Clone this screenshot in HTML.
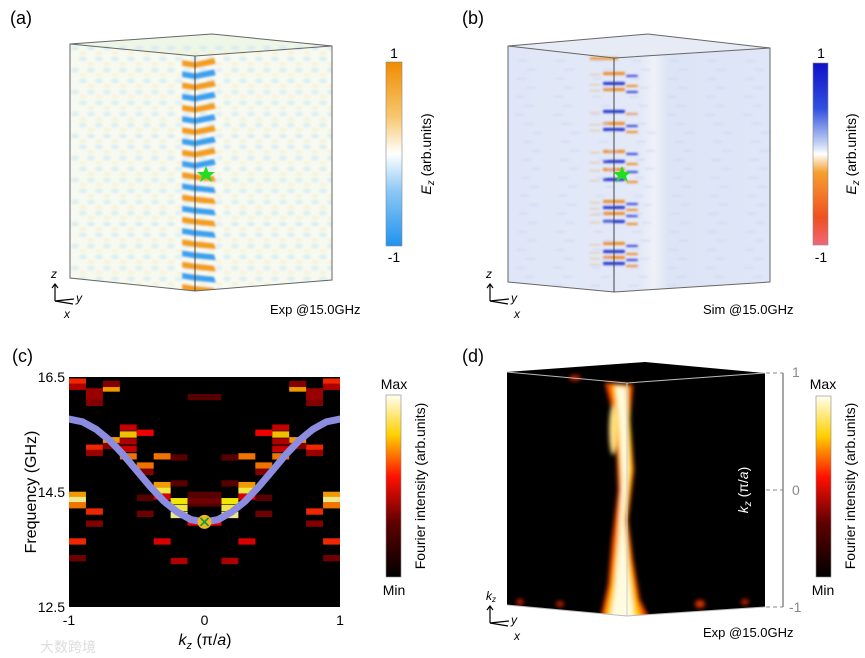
<!DOCTYPE html>
<html><head><meta charset="utf-8"><style>
html,body{margin:0;padding:0;background:#fff;}
svg{display:block;font-family:"Liberation Sans",sans-serif;}
</style></head><body>
<svg id="fig" width="865" height="658" viewBox="0 0 865 658" xmlns="http://www.w3.org/2000/svg">
<defs>
<linearGradient id="cbA" x1="0" y1="0" x2="0" y2="1"><stop offset="0" stop-color="#f08c00"/><stop offset="0.3" stop-color="#f7c870"/><stop offset="0.5" stop-color="#ffffff"/><stop offset="0.7" stop-color="#8cc8f5"/><stop offset="1" stop-color="#1f93ee"/></linearGradient>
<linearGradient id="cbB" x1="0" y1="0" x2="0" y2="1"><stop offset="0" stop-color="#1010c8"/><stop offset="0.25" stop-color="#3050e0"/><stop offset="0.45" stop-color="#c8d8f4"/><stop offset="0.5" stop-color="#ffffff"/><stop offset="0.6" stop-color="#f5a030"/><stop offset="0.85" stop-color="#f05020"/><stop offset="1" stop-color="#f06878"/></linearGradient>
<linearGradient id="cbHot" x1="0" y1="1" x2="0" y2="0"><stop offset="0" stop-color="#000"/><stop offset="0.3" stop-color="#600000"/><stop offset="0.55" stop-color="#ff1000"/><stop offset="0.78" stop-color="#ffd000"/><stop offset="1" stop-color="#fffff0"/></linearGradient>
<linearGradient id="bgB" x1="0" y1="0" x2="1" y2="0"><stop offset="0" stop-color="#dfe6f7"/><stop offset="0.5" stop-color="#e3e9f7"/><stop offset="0.55" stop-color="#eef1f8"/><stop offset="0.6" stop-color="#dce4f6"/><stop offset="1" stop-color="#dfe6f7"/></linearGradient>
<clipPath id="clipA"><polygon points="70,44 212,34 332,46 332,280 195,291 70,278"/></clipPath>
<clipPath id="clipB"><polygon points="508,46 648,34 770,48 770,282 614,292 508,282"/></clipPath>
<clipPath id="clipD"><polygon points="507,372 645,362 765,373 765,607 627,616 507,605"/></clipPath>
<clipPath id="clipC"><rect x="69" y="377" width="271" height="230"/></clipPath>
<filter id="blur1"><feGaussianBlur stdDeviation="1"/></filter>
<filter id="blur2"><feGaussianBlur stdDeviation="2"/></filter>
</defs>

<text x="10" y="24" font-size="18">(a)</text>
<text x="462" y="24" font-size="18">(b)</text>
<text x="12" y="362" font-size="18">(c)</text>
<text x="462" y="362" font-size="18">(d)</text>

<!-- Panel a -->
<g id="pa" clip-path="url(#clipA)">
<rect x="60" y="30" width="280" height="270" fill="#f7faf0"/>
<polygon points="70,44 212,34 332,46 195,56" fill="#eef6e8"/>
<g id="paBlobs" filter="url(#blur1)"></g><g id="paStripes" filter="url(#blur1)"></g>
</g>
<g fill="none" stroke="#666" stroke-width="1">
<polygon points="70,44 212,34 332,46 332,280 195,291 70,278"/><polyline points="70,44 195,56 332,46"/><line x1="195" y1="56" x2="195" y2="291" stroke="#444"/>
</g>
<polygon points="206,166 208.5,172 215,172 210,176 212,182 206,178 200,182 202,176 197,172 203.5,172" fill="#22dd22"/>
<rect x="386" y="62" width="16" height="184" fill="url(#cbA)" stroke="#888" stroke-width="0.6"/>
<text x="394" y="58" font-size="14" text-anchor="middle">1</text>
<text x="394" y="262" font-size="14" text-anchor="middle">-1</text>
<text transform="translate(431,154) rotate(-90)" font-size="14" text-anchor="middle"><tspan font-style="italic">E</tspan><tspan font-style="italic" font-size="10" dy="3">z</tspan><tspan dy="-3"> (arb.units)</tspan></text>
<text x="270" y="314" font-size="13">Exp @15.0GHz</text>
<g stroke="#000" stroke-width="1.2" fill="none">
<line x1="55" y1="301" x2="55" y2="285"/><polyline points="52,288 55,284 58,288"/><line x1="55" y1="301" x2="74" y2="299"/><line x1="55" y1="301" x2="73" y2="304"/>
</g>
<text x="51" y="278" font-size="12" font-style="italic">z</text><text x="76" y="302" font-size="12" font-style="italic">y</text><text x="64" y="318" font-size="12" font-style="italic">x</text>

<!-- Panel b -->
<g id="pb" clip-path="url(#clipB)">
<rect x="500" y="30" width="280" height="270" fill="url(#bgB)"/>
<polygon points="508,46 648,34 770,48 614,58" fill="#e6ebf6"/>
<g id="pbStreaks" filter="url(#blur1)"></g>
</g>
<g fill="none" stroke="#666" stroke-width="1">
<polygon points="508,46 648,34 770,48 770,282 614,292 508,282"/><polyline points="508,46 614,58 770,48"/><line x1="614" y1="58" x2="614" y2="292" stroke="#444"/>
</g>
<polygon points="622,166 624.5,172 631,172 626,176 628,182 622,178 616,182 618,176 613,172 619.5,172" fill="#22dd22"/>
<rect x="813" y="63" width="15" height="182" fill="url(#cbB)" stroke="#888" stroke-width="0.6"/>
<text x="821" y="58" font-size="14" text-anchor="middle">1</text>
<text x="821" y="262" font-size="14" text-anchor="middle">-1</text>
<text transform="translate(856,154) rotate(-90)" font-size="14" text-anchor="middle"><tspan font-style="italic">E</tspan><tspan font-style="italic" font-size="10" dy="3">z</tspan><tspan dy="-3"> (arb.units)</tspan></text>
<text x="703" y="314" font-size="13">Sim @15.0GHz</text>
<g stroke="#000" stroke-width="1.2" fill="none">
<line x1="490" y1="301" x2="490" y2="285"/><polyline points="487,288 490,284 493,288"/><line x1="490" y1="301" x2="509" y2="299"/><line x1="490" y1="301" x2="508" y2="304"/>
</g>
<text x="486" y="278" font-size="12" font-style="italic">z</text><text x="511" y="302" font-size="12" font-style="italic">y</text><text x="514" y="318" font-size="12" font-style="italic">x</text>

<!-- Panel c -->
<g>
<rect x="69" y="377" width="271" height="230" fill="#000"/>
<g id="cells" clip-path="url(#clipC)"></g>
<path id="bandCurve" fill="none" stroke="#8c8ce0" stroke-width="7" stroke-linecap="round" clip-path="url(#clipC)"/>
<g id="marker"></g>
<g id="ticks"></g>
<text transform="translate(36,492) rotate(-90)" font-size="16" text-anchor="middle">Frequency (GHz)</text>
<text x="205" y="645" font-size="16" text-anchor="middle"><tspan font-style="italic">k</tspan><tspan font-style="italic" font-size="11" dy="4">z</tspan><tspan dy="-4"> (π/</tspan><tspan font-style="italic">a</tspan><tspan>)</tspan></text>
</g>
<rect x="386" y="395" width="15" height="182" fill="url(#cbHot)" stroke="#888" stroke-width="0.6"/>
<text x="394" y="389" font-size="14" text-anchor="middle">Max</text>
<text x="394" y="595" font-size="14" text-anchor="middle">Min</text>
<text transform="translate(425,486) rotate(-90)" font-size="14" text-anchor="middle">Fourier intensity (arb.units)</text>
<text x="40" y="652" font-size="14" fill="#ddd" font-family="'Liberation Sans','Noto Sans CJK SC',sans-serif">大数跨境</text>

<!-- Panel d -->
<g clip-path="url(#clipD)">
<rect x="500" y="355" width="280" height="270" fill="#000"/>
<g id="pdStripe" filter="url(#blur2)"></g>
</g>
<g fill="none" stroke="#bbb" stroke-width="1">
<polyline points="507,372 627,383 765,373"/><line x1="627" y1="383" x2="627" y2="616" stroke="#ccc"/><polyline points="507,605 627,616 765,607"/>
</g>
<g stroke="#888" fill="none">
<line x1="783" y1="373" x2="783" y2="607" stroke-width="1.5"/>
<line x1="766" y1="373" x2="783" y2="373" stroke-dasharray="4,3"/>
<line x1="766" y1="490" x2="783" y2="490" stroke-dasharray="4,3"/>
<line x1="766" y1="607" x2="783" y2="607" stroke-dasharray="4,3"/>
</g>
<text x="792" y="377" font-size="14" fill="#888">1</text>
<text x="792" y="495" font-size="14" fill="#888">0</text>
<text x="789" y="612" font-size="14" fill="#888">-1</text>
<text transform="translate(748,490) rotate(-90)" font-size="14" fill="#fff" text-anchor="middle"><tspan font-style="italic">k</tspan><tspan font-style="italic" font-size="10" dy="3">z</tspan><tspan dy="-3"> (π/</tspan><tspan font-style="italic">a</tspan><tspan>)</tspan></text>
<rect x="816" y="396" width="15" height="181" fill="url(#cbHot)" stroke="#888" stroke-width="0.6"/>
<text x="823" y="389" font-size="14" text-anchor="middle">Max</text>
<text x="823" y="595" font-size="14" text-anchor="middle">Min</text>
<text transform="translate(855,486) rotate(-90)" font-size="14" text-anchor="middle">Fourier intensity (arb.units)</text>
<text x="703" y="637" font-size="13">Exp @15.0GHz</text>
<g stroke="#000" stroke-width="1.2" fill="none">
<line x1="490" y1="623" x2="490" y2="607"/><polyline points="487,610 490,606 493,610"/><line x1="490" y1="623" x2="509" y2="621"/><line x1="490" y1="623" x2="508" y2="626"/>
</g>
<text x="486" y="600" font-size="12" font-style="italic">k<tspan font-size="8" dy="2">z</tspan></text><text x="511" y="624" font-size="12" font-style="italic">y</text><text x="514" y="640" font-size="12" font-style="italic">x</text>
</svg>
<script>
// ---- Panel (c) data ----
const colIndex = [0,0,0,0,0,0,0, 1,1,1,1,1,1,1, 2,2,2,2, 3,3,3,3,3, 4,4,4,4,4, 5,5,5,5,5, 6,6,6,6,6,6, 7,7,7,7,7,
  15,15,15,15,15,15,15, 14,14,14,14,14,14,14, 13,13,13,13, 12,12,12,12,12, 11,11,11,11,11, 10,10,10,10,10, 9,9,9,9,9,9, 8,8,8,8,8];
const cellFreq = [16.42,16.33,14.45,14.36,14.27,13.64,13.35, 16.25,16.15,16.05,15.27,15.18,14.16,13.95, 16.3,16.38,15.4,15.3, 15.62,15.5,15.38,15.25,15.12, 15.53,14.96,14.85,14.4,14.12, 15.12,14.62,14.52,14.42,13.64, 14.34,14.22,14.1,15.1,14.65,13.3, 13.97,14.3,14.35,14.45,16.15,
  16.42,16.33,14.45,14.36,14.27,13.64,13.35, 16.25,16.15,16.05,15.27,15.18,14.16,13.95, 16.3,16.38,15.4,15.3, 15.62,15.5,15.38,15.25,15.12, 15.53,14.96,14.85,14.4,14.12, 15.12,14.62,14.52,14.42,13.64, 14.34,14.22,14.1,15.1,14.65,13.3, 13.97,14.3,14.35,14.45,16.15];
const cellIntensity = [0.6,0.4,0.75,0.95,0.7,0.6,0.25, 0.35,0.35,0.3,0.6,0.35,0.6,0.3, 0.75,0.3,0.75,0.3, 0.45,0.8,0.4,0.45,0.7, 0.55,0.7,0.3,0.2,0.25, 0.7,0.75,0.9,0.5,0.5, 0.85,0.9,0.95,0.2,0.2,0.4, 0.55,0.2,0.25,0.2,0.2,
  0.6,0.4,0.75,0.95,0.7,0.6,0.25, 0.35,0.35,0.3,0.6,0.35,0.6,0.3, 0.75,0.3,0.75,0.3, 0.45,0.8,0.4,0.45,0.7, 0.55,0.7,0.3,0.2,0.25, 0.7,0.75,0.9,0.5,0.5, 0.85,0.9,0.95,0.2,0.2,0.4, 0.55,0.2,0.25,0.2,0.2];
const curveK = [-1,-0.9,-0.8,-0.7,-0.6,-0.5,-0.4,-0.3,-0.2,-0.1,0,0.1,0.2,0.3,0.4,0.5,0.6,0.7,0.8,0.9,1];
const curveF = [15.77,15.72,15.59,15.40,15.15,14.87,14.59,14.34,14.15,14.02,13.98,14.02,14.15,14.34,14.59,14.87,15.15,15.40,15.59,15.72,15.77];
const markerK = [0];
const markerF = [13.98];
const xTicks = [-1,0,1];
const xTickLabels = ["-1","0","1"];
const yTicks = [16.5,14.5,12.5];
const yTickLabels = ["16.5","14.5","12.5"];
const nCols = 16;

const NS = "http://www.w3.org/2000/svg";
const X0=69, X1=340, Y0=607, Y1=377, KMIN=-1, KMAX=1, FMIN=12.5, FMAX=16.5;
const xScale = k => X0 + (k-KMIN)/(KMAX-KMIN)*(X1-X0);
const yScale = f => Y0 - (f-FMIN)/(FMAX-FMIN)*(Y0-Y1);
function hot(v){
  const r = Math.min(1, v/0.55), g = Math.max(0, Math.min(1,(v-0.55)/0.3)), b = Math.max(0,(v-0.85)/0.15);
  return `rgb(${Math.round(r*240)},${Math.round(g*230)},${Math.round(b*210)})`;
}
const cellsG = document.getElementById('cells');
const colW = (KMAX-KMIN)/nCols;
for(let i=0;i<colIndex.length;i++){
  const k0 = KMIN + colIndex[i]*colW;
  const x = xScale(k0), w = xScale(k0+colW)-x;
  const yTop = yScale(cellFreq[i]+0.055), h = yScale(cellFreq[i]-0.055)-yTop;
  const r = document.createElementNS(NS,'rect');
  r.setAttribute('x',x); r.setAttribute('y',yTop); r.setAttribute('width',w); r.setAttribute('height',h);
  r.setAttribute('fill',hot(cellIntensity[i]));
  
  
  cellsG.appendChild(r);
}
let d='';
curveK.forEach((k,i)=>{ d += (i?'L':'M') + xScale(k).toFixed(1)+','+yScale(curveF[i]).toFixed(1); });
document.getElementById('bandCurve').setAttribute('d',d);
const mg = document.getElementById('marker');
markerK.forEach((k,i)=>{
  const cx=xScale(k), cy=yScale(markerF[i]);
  mg.innerHTML += `<circle cx="${cx}" cy="${cy}" r="7" fill="#f0b81c"/><path d="M${cx-4},${cy-4}L${cx+4},${cy+4}M${cx+4},${cy-4}L${cx-4},${cy+4}" stroke="#1a9a3a" stroke-width="1.8"/>`;
});
const tg = document.getElementById('ticks');
xTicks.forEach((k,i)=>{
  const t=document.createElementNS(NS,'text');
  t.setAttribute('x',xScale(k)); t.setAttribute('y',625); t.setAttribute('font-size','14'); t.setAttribute('text-anchor','middle');
  
  
  t.textContent=xTickLabels[i]; tg.appendChild(t);
});
yTicks.forEach((f,i)=>{
  const t=document.createElementNS(NS,'text');
  t.setAttribute('x',65); t.setAttribute('y',yScale(f)+5); t.setAttribute('font-size','14'); t.setAttribute('text-anchor','end');
  
  
  t.textContent=yTickLabels[i]; tg.appendChild(t);
});

// ---- Panel (a) decorative field ----
const paB = document.getElementById('paBlobs');
let s='';
for(let y=48;y<295;y+=11){
  for(let x=75;x<335;x+=16){
    const off = ((y/11)|0)%2 ? 8:0;
    s += `<ellipse cx="${x+off}" cy="${y}" rx="4" ry="2.5" fill="#bfe0f5" opacity="0.45"/>`;
    s += `<ellipse cx="${x+off+8}" cy="${y+5}" rx="3.5" ry="2" fill="#f5e6b0" opacity="0.4"/>`;
  }
}
paB.innerHTML = s;
const paS = document.getElementById('paStripes');
s='';
let n=0;
for(let y=60;y<288;y+=11.2){
  const c1 = n%2 ? '#1f93ee':'#f29000';
  const bend = y>170 ? 4 : -2;
  s += `<path d="M182,${y} L195,${y+2} L214,${y+bend} L216,${y+bend+6} L195,${y+8} L182,${y+6}Z" fill="${c1}"/>`;
  n++;
}
s += `<rect x="176" y="58" width="48" height="232" fill="#fff" opacity="0.12"/>`;
paS.innerHTML = s;

// ---- Panel (b) decorative field ----
const pbS = document.getElementById('pbStreaks');
s='';
const rowsB=[72,82,88,110,122,128,150,160,168,178,200,206,212,220,242,250,256,262];
rowsB.forEach((y,i)=>{
  const c = i%2 ? '#2030d0' : '#f08a20';
  s += `<rect x="603" y="${y}" width="22" height="3" rx="1" fill="${c}"/>`;
  s += `<rect x="626" y="${y+3}" width="12" height="2" rx="1" fill="${i%2?'#f08a20':'#3040d8'}"/>`;
  s += `<rect x="590" y="${y+2}" width="10" height="1.5" fill="#f0b060" opacity="0.5"/>`;
});
for(let y=60;y<290;y+=9){
  for(let x=515;x<770;x+=38){
    s += `<rect x="${x+(y%19)}" y="${y}" width="9" height="1.5" fill="#c4d0f0" opacity="0.6"/>`;
  }
}
s += `<rect x="590" y="57" width="28" height="3" fill="#f0a040"/>`;
pbS.innerHTML = s;

// ---- Panel (d) decorative stripe ----
const pd = document.getElementById('pdStripe');
pd.innerHTML = `
<path d="M605,383 L625,384 L633,385 L630,420 L634,470 L628,520 L633,560 L640,600 L650,620 L600,620 L608,585 L612,540 L618,490 L616,440 L612,410Z" fill="#ff5000"/>
<path d="M612,385 L628,386 L630,420 L632,470 L626,520 L630,560 L636,600 L642,620 L605,620 L612,585 L617,540 L621,490 L618,440 L616,410Z" fill="#ffd000"/>
<path d="M616,386 L626,388 L627,430 L628,470 L624,520 L628,570 L632,600 L634,620 L610,620 L615,590 L619,540 L622,480 L620,430Z" fill="#fffbe0"/>
<ellipse cx="613" cy="430" rx="4" ry="25" fill="#ffe080"/>
<ellipse cx="520" cy="602" rx="4" ry="3" fill="#c02000"/><ellipse cx="560" cy="604" rx="4" ry="3" fill="#c02000"/>
<ellipse cx="700" cy="604" rx="5" ry="4" fill="#e03000"/><ellipse cx="745" cy="602" rx="4" ry="3" fill="#c02000"/>
<ellipse cx="575" cy="378" rx="6" ry="3" fill="#c02000"/>`;
</script>
</body></html>
